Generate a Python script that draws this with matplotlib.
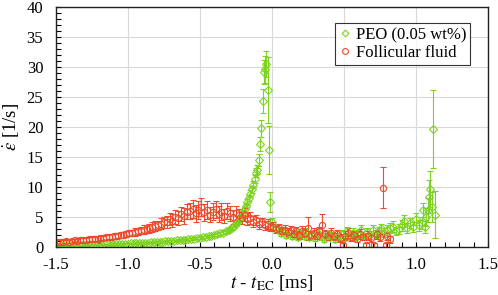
import matplotlib
matplotlib.use("Agg")
from matplotlib import pyplot as plt
from matplotlib.lines import Line2D
from matplotlib.ticker import MultipleLocator, FuncFormatter

plt.rcParams["font.family"] = ["Liberation Serif", "DejaVu Serif"]
plt.rcParams["mathtext.fontset"] = "stix"

# PEO (0.05 wt%) - time [ms], strain rate [1/s], error
peo_t = [
    -1.50, -1.48, -1.46, -1.44, -1.42, -1.40, -1.38, -1.36, -1.34, -1.32,
    -1.30, -1.28, -1.26, -1.24, -1.22, -1.20, -1.18, -1.16, -1.14, -1.12,
    -1.10, -1.08, -1.06, -1.04, -1.02, -1.00, -0.98, -0.96, -0.94, -0.92,
    -0.90, -0.88, -0.86, -0.84, -0.82, -0.80, -0.78, -0.76, -0.74, -0.72,
    -0.70, -0.68, -0.66, -0.64, -0.62, -0.60, -0.58, -0.56, -0.54, -0.52,
    -0.50, -0.48, -0.46, -0.44, -0.42, -0.40, -0.38, -0.36, -0.34, -0.32,
    -0.30, -0.29, -0.28, -0.27, -0.26, -0.25, -0.24, -0.23, -0.22, -0.21,
    -0.20, -0.19, -0.18, -0.17, -0.16, -0.15, -0.14, -0.13, -0.12, -0.11,
    -0.10, -0.09, -0.08, -0.075, -0.065, -0.055, -0.05, -0.04, -0.03, -0.02,
    -0.015,
    0.00, 0.02, 0.04, 0.06, 0.08, 0.10, 0.12, 0.14, 0.16, 0.18,
    0.20, 0.22, 0.24, 0.26, 0.28, 0.30, 0.32, 0.34, 0.36, 0.38,
    0.40, 0.42, 0.44, 0.46, 0.48, 0.50, 0.52, 0.54, 0.56, 0.58,
    0.60, 0.62, 0.64, 0.66, 0.68, 0.70, 0.72, 0.74, 0.76, 0.78,
    0.80, 0.82, 0.84, 0.86, 0.88, 0.90, 0.92, 0.94, 0.96, 0.98,
    1.00, 1.02, 1.04, 1.05, 1.06, 1.07, 1.08, 1.09, 1.10, 1.11,
    1.12, 1.13,
]
peo_y = [
    0.20, 0.22, 0.22, 0.24, 0.25, 0.26, 0.27, 0.28, 0.29, 0.30,
    0.31, 0.33, 0.34, 0.35, 0.36, 0.38, 0.39, 0.41, 0.42, 0.44,
    0.46, 0.47, 0.49, 0.51, 0.53, 0.55, 0.57, 0.60, 0.62, 0.64,
    0.67, 0.70, 0.72, 0.75, 0.78, 0.82, 0.85, 0.88, 0.92, 0.96,
    1.00, 1.04, 1.08, 1.12, 1.17, 1.22, 1.27, 1.33, 1.39, 1.45,
    1.52, 1.60, 1.68, 1.77, 1.87, 1.98, 2.10, 2.24, 2.40, 2.58,
    2.80, 2.95, 3.10, 3.30, 3.55, 3.80, 4.10, 4.45, 4.85, 5.30,
    5.80, 6.30, 6.90, 7.50, 8.20, 8.90, 9.60, 10.4, 11.3, 12.4,
    12.9, 14.5, 17.2, 19.8, 24.3, 29.2, 29.6, 30.5, 26.2, 16.2,
    7.5,
    4.2, 3.2, 2.8, 2.4, 2.6, 2.0, 2.3, 1.8, 2.1, 1.6,
    2.2, 1.9, 2.5, 1.7, 2.0, 1.5, 2.3, 1.8, 1.4, 2.1,
    1.6, 1.9, 1.3, 1.7, 2.2, 1.5, 2.6, 1.9, 2.4, 1.6,
    2.2, 2.8, 1.8, 2.5, 2.0, 2.9, 2.2, 2.6, 3.1, 2.4,
    2.8, 3.2, 3.4, 2.7, 3.0, 3.6, 4.4, 3.2, 4.0, 3.3,
    4.6, 3.6, 4.0, 6.2, 3.4, 5.0, 6.2, 8.4, 9.6, 6.7,
    19.6, 5.4,
]
peo_err = [
    0.10, 0.10, 0.10, 0.10, 0.10, 0.10, 0.10, 0.10, 0.10, 0.10,
    0.10, 0.10, 0.10, 0.10, 0.10, 0.10, 0.10, 0.10, 0.10, 0.10,
    0.12, 0.12, 0.12, 0.12, 0.12, 0.12, 0.12, 0.12, 0.12, 0.12,
    0.14, 0.14, 0.14, 0.14, 0.14, 0.14, 0.14, 0.14, 0.14, 0.14,
    0.15, 0.15, 0.15, 0.15, 0.15, 0.15, 0.15, 0.15, 0.15, 0.15,
    0.18, 0.18, 0.18, 0.18, 0.18, 0.20, 0.20, 0.20, 0.20, 0.22,
    0.25, 0.25, 0.25, 0.28, 0.28, 0.30, 0.30, 0.32, 0.35, 0.38,
    0.40, 0.42, 0.45, 0.48, 0.50, 0.55, 0.60, 0.65, 0.70, 0.80,
    0.80, 1.0, 1.2, 1.4, 2.0, 2.0, 2.3, 2.1, 5.5, 4.0,
    1.6,
    0.6, 0.5, 0.5, 0.5, 0.6, 0.5, 0.6, 0.5, 0.6, 0.5,
    0.6, 0.5, 0.7, 0.5, 0.6, 0.5, 0.7, 0.6, 0.5, 0.6,
    0.5, 0.6, 0.5, 0.6, 0.7, 0.5, 0.8, 0.6, 0.7, 0.5,
    0.7, 0.8, 0.6, 0.7, 0.6, 0.8, 0.7, 0.7, 0.8, 0.7,
    0.8, 0.8, 0.9, 0.7, 0.8, 0.9, 1.0, 0.8, 0.9, 0.8,
    1.0, 0.9, 1.0, 1.2, 1.0, 1.5, 2.0, 2.8, 3.0, 2.5,
    6.5, 3.9,
]

# Follicular fluid
ff_t = [
    -1.49, -1.47, -1.45, -1.43, -1.41, -1.39, -1.37, -1.35, -1.33, -1.31,
    -1.29, -1.27, -1.25, -1.23, -1.21, -1.19, -1.17, -1.15, -1.13, -1.11,
    -1.09, -1.07, -1.05, -1.03, -1.01, -0.99, -0.97, -0.95, -0.93, -0.91,
    -0.89, -0.87, -0.85, -0.83, -0.81, -0.79, -0.77, -0.75, -0.73, -0.71,
    -0.69, -0.67, -0.65, -0.63, -0.61, -0.59, -0.57, -0.55, -0.53, -0.51,
    -0.49, -0.47, -0.45, -0.43, -0.41, -0.39, -0.37, -0.35, -0.33, -0.31,
    -0.29, -0.27, -0.25, -0.23, -0.21, -0.19, -0.17, -0.15, -0.13, -0.11,
    -0.09, -0.07, -0.05, -0.03, -0.01, 0.01, 0.03, 0.05, 0.07, 0.09,
    0.11, 0.13, 0.15, 0.17, 0.19, 0.21, 0.23, 0.25, 0.27, 0.29,
    0.31, 0.33, 0.35, 0.37, 0.39, 0.41, 0.43, 0.45, 0.47, 0.49,
    0.51, 0.53, 0.55, 0.57, 0.59, 0.61, 0.63, 0.65, 0.67, 0.69,
    0.71, 0.73, 0.75, 0.77, 0.79, 0.80, 0.82,
]
ff_y = [
    0.9, 0.8, 0.9, 1.0, 0.9, 1.0, 1.1, 1.0, 1.1, 1.2,
    1.1, 1.3, 1.3, 1.4, 1.4, 1.5, 1.5, 1.6, 1.7, 1.7,
    1.8, 1.9, 2.0, 2.0, 2.2, 2.3, 2.3, 2.5, 2.6, 2.7,
    2.9, 3.0, 3.1, 3.3, 3.5, 3.6, 3.9, 4.1, 4.2, 4.6,
    4.4, 5.0, 4.8, 5.5, 5.2, 5.9, 6.0, 6.4, 5.6, 6.1,
    6.6, 5.8, 6.2, 5.4, 5.9, 6.3, 5.5, 5.9, 5.2, 6.0,
    5.6, 5.0, 5.7, 5.3, 4.9, 5.4, 4.6, 4.8, 4.2, 4.5,
    3.9, 4.1, 3.6, 3.8, 3.3, 3.4, 3.0, 3.2, 2.7, 2.9,
    2.5, 2.8, 2.2, 2.6, 2.0, 2.7, 2.3, 3.1, 2.0, 2.4,
    1.9, 2.6, 3.7, 2.2, 1.7, 2.4, 1.8, 2.1, 1.5, 0.3,
    1.9, 2.3, 1.6, 2.0, 1.4, 2.2, 1.7, 0.3, 1.9, 1.5,
    0.3, 2.1, 1.6, 9.9, 0.3, 1.8, 1.3,
]
ff_err = [
    0.3, 0.3, 0.3, 0.3, 0.3, 0.3, 0.3, 0.3, 0.35, 0.35,
    0.35, 0.35, 0.35, 0.4, 0.4, 0.4, 0.4, 0.4, 0.4, 0.45,
    0.45, 0.45, 0.5, 0.5, 0.5, 0.5, 0.55, 0.6, 0.6, 0.6,
    0.7, 0.7, 0.7, 0.8, 0.8, 0.8, 0.9, 0.9, 1.0, 1.0,
    1.1, 1.1, 1.2, 1.2, 1.3, 1.3, 1.4, 1.5, 1.4, 1.5,
    1.5, 1.4, 1.5, 1.3, 1.4, 1.4, 1.3, 1.4, 1.2, 1.3,
    1.2, 1.2, 1.2, 1.1, 1.1, 1.1, 1.0, 1.0, 0.9, 0.9,
    0.9, 0.8, 0.8, 0.8, 0.7, 0.7, 0.7, 0.7, 0.6, 0.7,
    0.6, 0.7, 0.6, 0.7, 0.6, 0.8, 0.7, 1.9, 0.6, 0.7,
    0.6, 0.8, 1.8, 0.7, 0.6, 0.8, 0.6, 0.7, 0.6, 0.3,
    0.7, 0.8, 0.6, 0.7, 0.6, 0.8, 0.6, 0.3, 0.7, 0.6,
    0.3, 0.8, 0.6, 3.4, 0.3, 0.7, 0.6,
]

green = "#7ED321"
red = "#EE4A2C"

fig = plt.figure(figsize=(4.98, 2.95), dpi=100)
ax = fig.add_axes([0.112, 0.163, 0.868, 0.813])

ax.errorbar(peo_t, peo_y, yerr=peo_err, fmt="D", color=green, mfc="none",
            ms=3.8, mew=0.8, elinewidth=0.8, capsize=2, capthick=0.8)
ax.errorbar(ff_t, ff_y, yerr=ff_err, fmt="o", color=red, mfc="none",
            ms=4.5, mew=0.8, elinewidth=0.8, capsize=2, capthick=0.8)

ax.set_xlim(-1.5, 1.5)
ax.set_ylim(0, 40)
ax.xaxis.set_major_locator(MultipleLocator(0.5))
ax.xaxis.set_minor_locator(MultipleLocator(0.1))
ax.yaxis.set_major_locator(MultipleLocator(5))
ax.yaxis.set_minor_locator(MultipleLocator(1))
ax.xaxis.set_major_formatter(FuncFormatter(lambda v, p: f"{v:.1f}"))
ax.yaxis.set_major_formatter(FuncFormatter(lambda v, p: f"{v:.0f}"))
ax.tick_params(which="both", direction="in", length=3.5, width=0.8,
               labelsize=12)
ax.tick_params(axis="x", which="major", pad=7)
ax.tick_params(axis="y", which="major", pad=9)
ax.grid(True, which="major", color="#d9d9d9", lw=0.8)
ax.set_axisbelow(True)
for s in ax.spines.values():
    s.set_color("#222222")
    s.set_linewidth(1.0)

ax.set_xlabel(r"$t$ - $t_{\mathrm{EC}}$ [ms]", fontsize=13.5, labelpad=0)
ax.set_ylabel(r"$\dot{\varepsilon}$ [1/s]", fontsize=13.5, labelpad=3)

handles = [
    Line2D([], [], ls="none", marker="D", ms=3.4, mfc="none", mew=0.8, color=green),
    Line2D([], [], ls="none", marker="o", ms=4.2, mfc="none", mew=0.8, color=red),
]
leg = ax.legend(handles, ["PEO (0.05 wt%)", "Follicular fluid"], loc="upper right",
                fontsize=12, frameon=True, fancybox=False, edgecolor="black",
                handlelength=0.7, handletextpad=0.3, borderpad=0.25,
                labelspacing=0.1, bbox_to_anchor=(0.978, 0.968))
leg.get_frame().set_linewidth(0.8)

fig.savefig("out.png", dpi=100)
